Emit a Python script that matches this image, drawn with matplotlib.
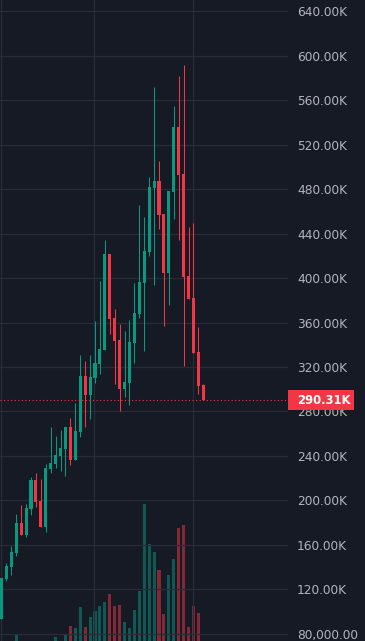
import numpy as np
import matplotlib.pyplot as plt
from matplotlib.patches import Rectangle
from matplotlib.ticker import FuncFormatter

# daily candles, prices in thousands
opens = [93.5, 129.4, 140.2, 152.8, 179.8, 169.0, 192.3, 218.4, 199.5, 176.2,
         228.3, 232.8, 240.0, 246.3, 266.1, 236.4, 261.6, 311.9, 294.8, 310.1,
         322.7, 335.3, 421.6, 364.0, 344.3, 300.2, 305.6, 341.6, 367.6, 395.5,
         423.4, 480.9, 487.2, 457.5, 404.5, 477.3, 535.7, 493.5, 401.8, 382.0,
         333.5, 303.8]
highs = [130.3, 143.8, 159.1, 187.9, 195.9, 196.8, 221.1, 224.7, 219.3, 232.8,
         266.1, 258.0, 263.4, 266.1, 274.1, 287.6, 330.8, 325.4, 330.8, 361.3,
         397.3, 434.2, 421.6, 372.1, 358.6, 352.4, 362.2, 395.5, 465.6, 454.8,
         490.8, 571.7, 505.2, 457.5, 478.2, 554.6, 581.6, 591.5, 445.8, 449.4,
         355.9, 304.7]
lows = [93.5, 127.6, 133.0, 150.1, 169.0, 167.2, 187.0, 194.1, 176.2, 171.7,
        224.7, 229.2, 226.5, 222.0, 231.9, 236.4, 257.1, 266.1, 273.2, 305.6,
        313.7, 335.3, 349.7, 304.7, 280.4, 293.0, 285.8, 323.6, 364.0, 334.4,
        419.8, 393.7, 444.0, 356.8, 375.7, 453.0, 434.2, 320.9, 381.1, 332.6,
        295.7, 290.31]
closes = [130.3, 141.1, 153.7, 179.8, 169.0, 193.2, 218.4, 198.6, 176.2, 229.2,
          233.7, 240.9, 247.2, 266.1, 236.4, 262.5, 311.9, 294.8, 311.0, 323.6,
          336.2, 421.6, 363.1, 343.4, 300.2, 306.5, 342.5, 368.5, 396.4, 424.3,
          481.8, 487.2, 456.6, 404.5, 478.2, 535.7, 492.6, 400.9, 381.1, 332.6,
          302.9, 290.31]
volumes = [0, 0, 0, 6, 0, 0, 0, 0, 0, 0,
           0, 4, 0, 7, 15, 13, 34, 14, 24, 30,
           35, 39, 47, 35, 36, 19, 13, 31, 50, 137,
           97, 89, 71, 27, 66, 82, 113, 116, 14, 35,
           28, 0]
month_starts = [-0.1, 18.8, 38.9]
last_price = 290310

bg = '#161a25'
up = '#089981'
down = '#f23645'
text_c = '#b2b5be'
grid_c = '#282c38'

o = np.array(opens) * 1000
h = np.array(highs) * 1000
l = np.array(lows) * 1000
c = np.array(closes) * 1000
x = np.arange(len(o))
colors = [up if cc >= oo else down for oo, cc in zip(o, c)]

fig = plt.figure(figsize=(3.65, 6.41), dpi=100, facecolor=bg)
rect = [0, 0, 288 / 365, 1]
ax_vol = fig.add_axes(rect)
ax = fig.add_axes(rect)

ax_vol.set_facecolor(bg)
ax_vol.bar(x, volumes, width=0.62, color=colors, alpha=0.5)
ax_vol.set_ylim(0, 641)
ax_vol.set_xlim(-0.3, 58.2)
ax_vol.axis('off')

ax.patch.set_visible(False)
ax.vlines(x, l, h, colors=colors, lw=0.75)
ax.bar(x, np.maximum(np.abs(c - o), 400), bottom=np.minimum(o, c), width=0.62, color=colors)
ax.set_xlim(-0.3, 58.2)
ax.set_ylim(73700, 649900)

ax.set_yticks(np.arange(80000, 640001, 40000))
ax.yaxis.set_major_formatter(FuncFormatter(
    lambda v, p: f"{v / 1000:.2f}K" if v >= 100000 else f"{v:,.2f}"))
ax.yaxis.tick_right()
ax.tick_params(axis='y', length=0, pad=6.5, labelsize=8.7, labelcolor=text_c)
ax.set_xticks(month_starts)
ax.tick_params(axis='x', length=0, labelbottom=False)
ax.grid(True, color=grid_c, lw=0.9)
ax.set_axisbelow(True)
for s in ax.spines.values():
    s.set_visible(False)

# last price line and tag
ax.axhline(last_price, color=down, lw=0.8, ls=(0, (1, 2.2)))
tag_tr = ax.get_yaxis_transform()
ax.add_patch(Rectangle((1.0, last_price - 9000), 66 / 288, 18000,
                       transform=tag_tr, fc=down, ec='none', clip_on=False, zorder=5))
ax.text(297 / 288, last_price, f"{last_price / 1000:.2f}K", transform=tag_tr,
        va='center', ha='left', fontsize=8.4, fontweight='bold', color='white',
        clip_on=False, zorder=6)

fig.savefig('out.png', dpi=100, facecolor=bg)
